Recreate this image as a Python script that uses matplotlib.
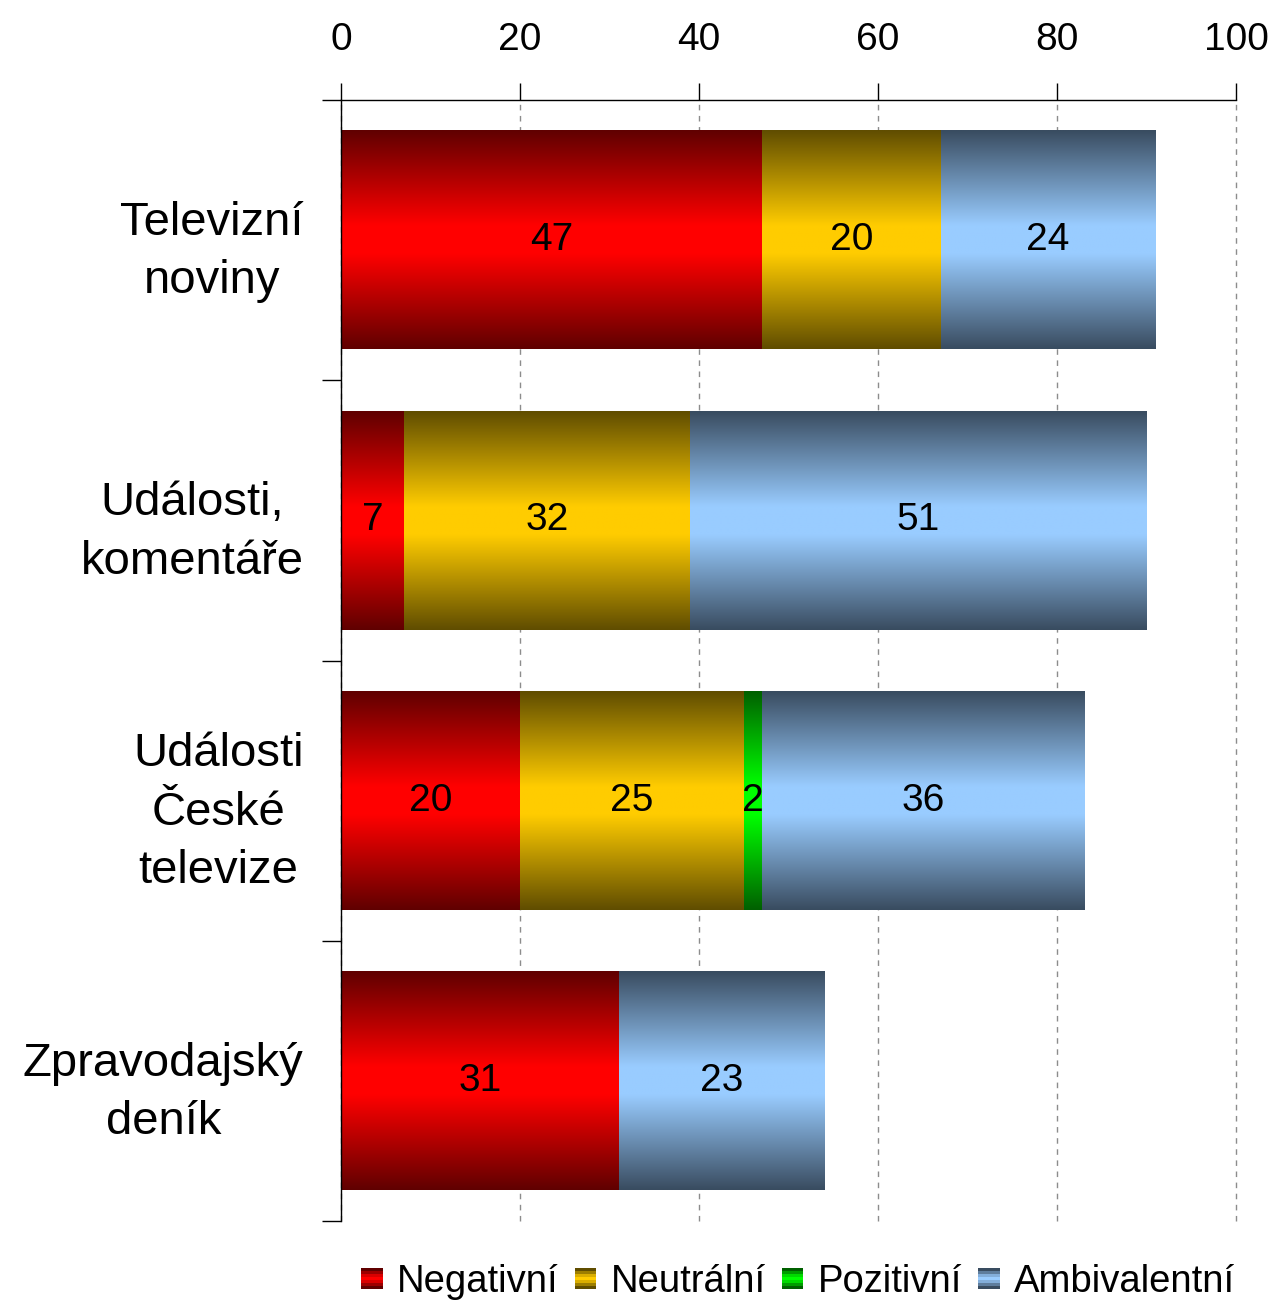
import matplotlib
matplotlib.use('Agg')
import matplotlib.pyplot as plt
import numpy as np
from matplotlib.patches import Rectangle, Patch
from matplotlib.legend_handler import HandlerBase

plt.rcParams['font.family'] = ['Liberation Sans', 'DejaVu Sans']

CATEGORIES = ["Televizní\nnoviny", "Události,\nkomentáře",
              "Události\nČeské\ntelevize", "Zpravodajský\ndeník"]
SERIES = ["Negativní", "Neutrální", "Pozitivní", "Ambivalentní"]
NEGATIVNI = [47, 7, 20, 31]
NEUTRALNI = [20, 32, 25, 0]
POZITIVNI = [0, 0, 2, 0]
AMBIVALENTNI = [24, 51, 36, 23]
XTICKS = [0, 20, 40, 60, 80, 100]

# bright centre colour, dark edge colour of each gradient
BRIGHT = [(255, 0, 0), (255, 204, 0), (0, 255, 0), (153, 204, 255)]
DARK = [(96, 0, 0), (96, 77, 0), (0, 96, 0), (57, 76, 96)]


def profile(n):
    u = np.linspace(0, 1, n)
    t = 1 - np.abs(2 * u - 1)
    return np.clip(t * 1.15, 0, 1)


def gradient(bright, dark, n=200):
    b = np.array(bright) / 255.0
    d = np.array(dark) / 255.0
    t = profile(n)[:, None]
    return (d + (b - d) * t)[:, None, :]


class GradientHandler(HandlerBase):
    def __init__(self, bright, dark, nstrips=7):
        super().__init__()
        self.bright, self.dark, self.n = bright, dark, nstrips

    def create_artists(self, legend, orig_handle, xdescent, ydescent,
                       width, height, fontsize, trans):
        size = width
        y0 = -ydescent + height / 2 - size / 2
        cols = gradient(self.bright, self.dark, self.n)[:, 0, :]
        h = size / self.n
        arts = []
        for i, c in enumerate(cols):
            r = Rectangle((-xdescent, y0 + size - (i + 1) * h), size, h,
                          facecolor=c, edgecolor='none', transform=trans)
            arts.append(r)
        return arts


fig = plt.figure(figsize=(12.75, 13.02), dpi=100)
ax = fig.add_axes([0.2675, 0.0622, 0.7020, 0.8610])

ypos = np.arange(len(CATEGORIES))
series_vals = [NEGATIVNI, NEUTRALNI, POZITIVNI, AMBIVALENTNI]
left = np.zeros(len(CATEGORIES))
for k, vals in enumerate(series_vals):
    vals = np.array(vals, dtype=float)
    bars = ax.barh(ypos, vals, left=left, height=0.78,
                   color='none', edgecolor='none')
    grad = gradient(BRIGHT[k], DARK[k])
    for bar, v in zip(bars, vals):
        if v <= 0:
            continue
        x0, y0 = bar.get_x(), bar.get_y()
        w, h = bar.get_width(), bar.get_height()
        ax.imshow(grad, extent=(x0, x0 + w, y0 + h, y0), aspect='auto',
                  interpolation='bilinear', zorder=2)
        ax.text(x0 + w / 2, y0 + h / 2, f"{int(v)}", ha='center',
                va='center', fontsize=28, zorder=3)
    left += vals

ax.set_xlim(0, 100)
ax.set_ylim(3.5, -0.5)
ax.set_aspect('auto')

ax.xaxis.tick_top()
ax.set_xticks(XTICKS)
ax.tick_params(axis='x', direction='out', length=12, width=1, pad=18,
               labelsize=28)
ax.grid(True, axis='x', linestyle=(0, (4, 4)), color='#8c8c8c', linewidth=1)
for gl in ax.get_xgridlines():
    gl.set_clip_on(False)
ax.set_axisbelow(True)

ax.set_yticks(ypos)
ax.set_yticklabels(CATEGORIES, fontsize=34)
for lbl in ax.get_yticklabels():
    lbl.set_multialignment('center')
    lbl.set_linespacing(1.42)
ax.set_yticks(np.arange(-0.5, len(CATEGORIES)), minor=True)
ax.tick_params(axis='y', which='major', length=0, pad=27)
ax.tick_params(axis='y', which='minor', length=14, width=1, direction='out')

for s in ['right', 'bottom']:
    ax.spines[s].set_visible(False)
for s in ['top', 'left']:
    ax.spines[s].set_linewidth(1)

handles = [Patch(label=name) for name in SERIES]
hmap = {h: GradientHandler(BRIGHT[i], DARK[i]) for i, h in enumerate(handles)}
fig.legend(handles=handles, handler_map=hmap, loc='center',
           bbox_to_anchor=(0.626, 0.0155), ncol=4, frameon=False,
           fontsize=27.5, handlelength=0.56, handletextpad=0.38,
           columnspacing=0.42, borderpad=0)

fig.savefig("out.png", dpi=100)
